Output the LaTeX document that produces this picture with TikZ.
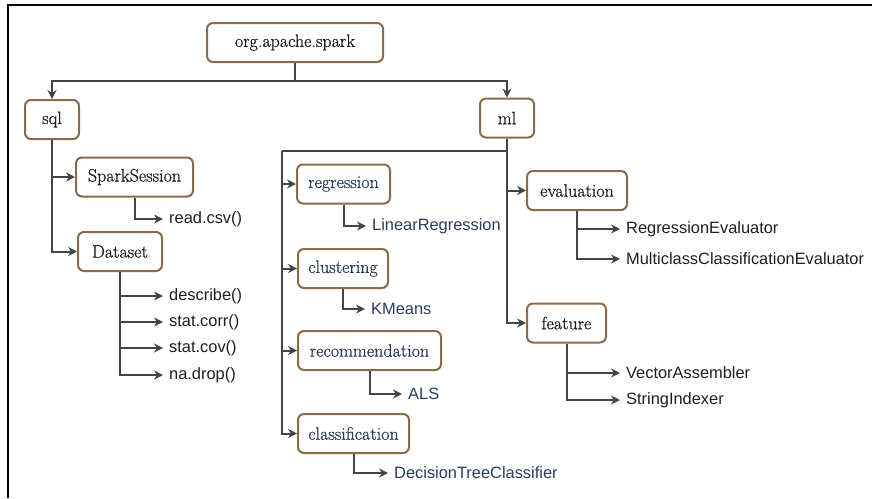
\documentclass[tikz,border=0pt]{standalone}
\usepackage{fontspec}
\usetikzlibrary{arrows.meta}
\newfontfamily\labelsans{Liberation Sans}
\newfontfamily\boxserif{Latin Modern Roman}[FakeBold=0.7]
\definecolor{boxbrown}{HTML}{8B6B4A}
\definecolor{linegray}{HTML}{404548}
\definecolor{navytext}{HTML}{2A3B5C}
\definecolor{boxtext}{HTML}{1E1E1E}
\tikzset{
  pkg/.style={draw=boxbrown, line width=2pt, rounded corners=6pt, fill=white,
    minimum height=39pt, inner sep=0pt, text=boxtext,
    font=\boxserif\fontsize{18}{21}\selectfont},
  subpkg/.style={pkg, text=navytext},
  conn/.style={draw=linegray, line width=2pt,
    -{Stealth[length=9pt, width=9pt, inset=3pt]}},
  trunk/.style={draw=linegray, line width=2pt},
  api/.style={anchor=west, inner xsep=6pt, inner ysep=1pt, text=boxtext,
    font=\labelsans\fontsize{16.4}{18}\selectfont},
  mlapi/.style={api, text=navytext}
}
\begin{document}
\begin{tikzpicture}[x=1pt, y=-1pt]
\useasboundingbox (0,0) rectangle (872,498);
% frame
\draw[line width=2.5pt, black] (8,498) -- (8,5) -- (872,5);

% packages
\node[pkg, minimum width=176pt] (root) at (295,42.5) {org.apache.spark};
\node[pkg, minimum width=54pt] (sql) at (52,119.5) {sql};
\node[pkg, minimum width=54pt] (ml) at (507,118) {ml};

% sql branch
\node[pkg, minimum width=117pt] (ss) at (134.5,177) {SparkSession};
\node[pkg, minimum width=84pt] (ds) at (120,251.5) {Dataset};
\node[api] (readcsv) at (163,219) {read.csv()};
\node[api] (describe) at (163,296) {describe()};
\node[api] (corr) at (163,322) {stat.corr()};
\node[api] (cov) at (163,348) {stat.cov()};
\node[api] (drop) at (163,375) {na.drop()};

% ml branch, left column
\node[subpkg, minimum width=93pt] (reg) at (343.5,184) {regression};
\node[subpkg, minimum width=90pt] (clu) at (343,268.5) {clustering};
\node[subpkg, minimum width=143pt] (rec) at (369.5,350.5) {recommendation};
\node[subpkg, minimum width=111pt] (cla) at (353.5,433.5) {classification};
\node[mlapi] (linreg) at (366,226) {LinearRegression};
\node[mlapi] (kmeans) at (365,309) {KMeans};
\node[mlapi] (als) at (402,394) {ALS};
\node[mlapi] (dtc) at (388,473) {DecisionTreeClassifier};

% ml branch, right column
\node[pkg, minimum width=100pt] (eval) at (577,190.5) {evaluation};
\node[pkg, minimum width=79pt] (feat) at (566.5,323) {feature};
\node[api] (regeval) at (620,229) {RegressionEvaluator};
\node[api] (mceval) at (620,259) {MulticlassClassificationEvaluator};
\node[api] (vecasm) at (620,373) {VectorAssembler};
\node[api] (stridx) at (620,400) {StringIndexer};

% root connectors
\coordinate (rootbar) at (295,81);
\draw[trunk] (root.south) -- (rootbar);
\draw[conn] (rootbar) -| (sql.north);
\draw[conn] (rootbar) -| (ml.north);

% sql connectors
\draw[conn] (sql.south) |- (ss.west);
\draw[conn] (sql.south) |- (ds.west);
\draw[conn] (ss.south) |- (readcsv.west);
\draw[conn] (ds.south) |- (describe.west);
\draw[conn] (ds.south) |- (corr.west);
\draw[conn] (ds.south) |- (cov.west);
\draw[conn] (ds.south) |- (drop.west);

% ml connectors
\coordinate (mlsplit) at (507,151);
\coordinate (mlleft) at (282,151);
\draw[trunk] (ml.south) -- (mlsplit) -- (mlleft);
\draw[conn] (mlleft) |- (reg.west);
\draw[conn] (mlleft) |- (clu.west);
\draw[conn] (mlleft) |- (rec.west);
\draw[conn] (mlleft) |- (cla.west);
\draw[conn] (ml.south) |- (eval.west);
\draw[conn] (ml.south) |- (feat.west);
\draw[conn] (reg.south) |- (linreg.west);
\draw[conn] (clu.south) |- (kmeans.west);
\draw[conn] (rec.south) |- (als.west);
\draw[conn] (cla.south) |- (dtc.west);
\draw[conn] (eval.south) |- (regeval.west);
\draw[conn] (eval.south) |- (mceval.west);
\draw[conn] (feat.south) |- (vecasm.west);
\draw[conn] (feat.south) |- (stridx.west);
\end{tikzpicture}
\end{document}
